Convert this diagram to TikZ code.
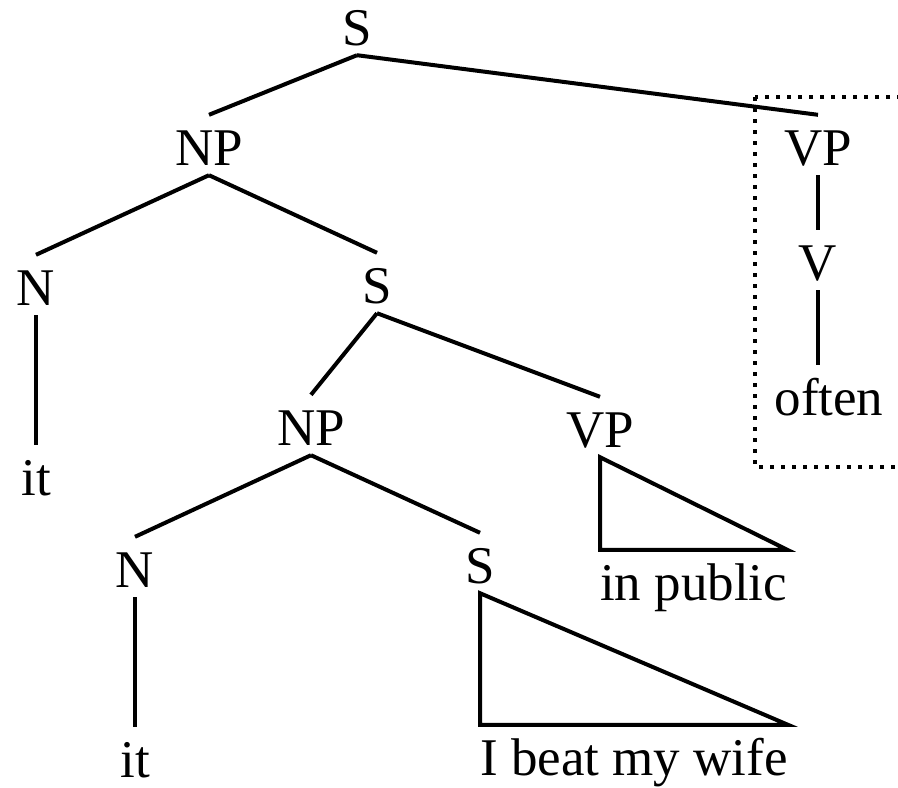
\documentclass[tikz,border=0pt]{standalone}
\usepackage{fontspec}
\newfontfamily\treefont{Liberation Serif}
\usetikzlibrary{positioning}
\newcommand{\fs}{53pt}

\begin{document}
\begin{tikzpicture}[x=1pt, y=-1pt,
    cat/.style={inner xsep=0pt, inner ysep=10pt, text height=40pt, text depth=0pt, font=\treefont\fontsize{\fs}{\fs}\selectfont},
    edge/.style={line width=4pt},
    dotbox/.style={line width=3.6pt, dash pattern=on 3.6pt off 7.4pt}]
    \useasboundingbox (0,0) rectangle (898,788);

    % Top levels
    \node[cat, anchor=base] (s-0) at (357,45) {S};
    \node[cat, anchor=base] (np-1) at (209,165) {NP};
    \node[cat, anchor=base] (vp-1) at (818,165) {VP};
    \node[cat, anchor=base] (n-1) at (36,305) {N};
    \node[cat, anchor=base] (s-1) at (377,303) {S};
    \node[cat, anchor=base] (v-1) at (818,280) {V};

    % Middle
    \node[cat, anchor=base] (it-1) at (36,495) {it};
    \node[cat, anchor=base] (np-2) at (311,445) {NP};
    \node[cat, anchor=base] (vp-2) at (600,447) {VP};
    \node[cat, anchor=base] (often) at (829,415) {often};

    % Bottom
    \node[cat, anchor=base] (n-2) at (135,587) {N};
    \node[cat, anchor=base] (s-2) at (480,583) {S};
    \node[cat, anchor=base] (it-2) at (135,777) {it};
    \node[cat, anchor=base west] (public) at (600,600) {in public};
    \node[cat, anchor=base west] (wife) at (480,775) {I beat my wife};

    % Branches
    \draw[edge] (s-0.south) -- (np-1.north);
    \draw[edge] (s-0.south) -- (vp-1.north);
    \draw[edge] (np-1.south) -- (n-1.north);
    \draw[edge] (np-1.south) -- (s-1.north);
    \draw[edge] (n-1.south) -- (it-1.north);
    \draw[edge] (s-1.south) -- (np-2.north);
    \draw[edge] (s-1.south) -- (vp-2.north);
    \draw[edge] (np-2.south) -- (n-2.north);
    \draw[edge] (np-2.south) -- (s-2.north);
    \draw[edge] (n-2.south) -- (it-2.north);
    \draw[edge] (vp-1.south) -- (v-1.north);
    \draw[edge] (v-1.south) -- (v-1.south |- often.north);

    % Triangles
    \draw[edge] (vp-2.south) -- (vp-2.south |- public.north) -- (public.north east) -- cycle;
    \draw[edge] (s-2.south) -- (s-2.south |- wife.north) -- (wife.north east) -- cycle;

    % Dotted box
    \draw[dotbox] (755,97) rectangle (920,467);

\end{tikzpicture}
\end{document}
